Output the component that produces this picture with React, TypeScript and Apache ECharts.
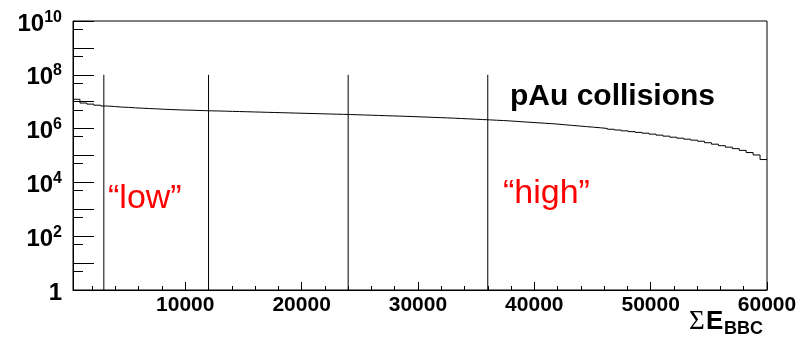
import React, { useEffect, useRef } from 'react';
import * as echarts from 'echarts';

// ---- data ----
const xMin = 350;
const xMax = 60000;
const binWidth = 596.5;
// log10 of the bin contents (100 bins)
const log10Counts = [
  7.09, 6.95, 6.91, 6.87, 6.84, 6.82, 6.80, 6.79, 6.77, 6.76,
  6.745, 6.735, 6.72, 6.71, 6.70, 6.69, 6.685, 6.675, 6.668, 6.66,
  6.655, 6.648, 6.64, 6.634, 6.627, 6.62, 6.613, 6.606, 6.599, 6.592,
  6.585, 6.578, 6.571, 6.564, 6.557, 6.55, 6.543, 6.536, 6.53, 6.523,
  6.515, 6.506, 6.498, 6.49, 6.48, 6.473, 6.465, 6.456, 6.447, 6.437,
  6.427, 6.417, 6.407, 6.397, 6.387, 6.374, 6.362, 6.35, 6.337, 6.325,
  6.312, 6.30, 6.284, 6.268, 6.25, 6.233, 6.216, 6.2, 6.183, 6.164,
  6.14, 6.118, 6.096, 6.074, 6.052, 6.03, 6.005, 5.976, 5.947, 5.917,
  5.888, 5.859, 5.83, 5.795, 5.758, 5.72, 5.68, 5.645, 5.607, 5.57,
  5.53, 5.475, 5.42, 5.365, 5.31, 5.255, 5.19, 5.11, 5.02, 4.85,
];
const cutValues = [3000, 12000, 24000, 36000];
const cutBottom = 1;
const cutTop = 1e8;
const xLabelValues = [10000, 20000, 30000, 40000, 50000, 60000];
const xMajorTickValues = [0, 10000, 20000, 30000, 40000, 50000, 60000];
const xMinorTickValues = [
  2000, 4000, 6000, 8000, 12000, 14000, 16000, 18000, 22000, 24000, 26000, 28000,
  32000, 34000, 36000, 38000, 42000, 44000, 46000, 48000, 52000, 54000, 56000, 58000,
];
const yMin = 1;
const yMax = 1e10;
const yMajorTickValues = [1, 1e1, 1e2, 1e3, 1e4, 1e5, 1e6, 1e7, 1e8, 1e9, 1e10];
const yMinorTickValues = [5, 5e1, 5e2, 5e3, 5e4, 5e5, 5e6, 5e7, 5e8, 5e9];
const yLabelValues = [1, 1e2, 1e4, 1e6, 1e8, 1e10];
const titleText = 'pAu collisions';
const lowText = '\u201Clow\u201D';
const highText = '\u201Chigh\u201D';

const FONT = "'Liberation Sans', Arial, Helvetica, sans-serif";
const SERIF = "'Liberation Serif', 'DejaVu Serif', serif";

export default function App() {
  const ref = useRef<HTMLDivElement>(null);
  useEffect(() => {
    if (!ref.current) return;
    const chart = echarts.init(ref.current, undefined, { renderer: 'svg' });

    const histData: [number, number][] = log10Counts.map((v, i) => [xMin + i * binWidth, Math.pow(10, v)]);
    histData.push([xMax, Math.pow(10, log10Counts[log10Counts.length - 1])]);

    const cutSeries = cutValues.map((c) => ({
      type: 'line' as const,
      data: [[c, cutBottom], [c, cutTop]],
      symbol: 'none',
      lineStyle: { color: '#000', width: 1 },
      silent: true,
    }));

    const yLabelFormatter = (val: number) => {
      const e = Math.round(Math.log10(val));
      return e === 0 ? '{b|1}' : `{b|10}{s|${e}}`;
    };

    chart.setOption({
      animation: false,
      grid: {
        left: 73, right: 44, top: 21, bottom: 47,
        show: true, borderColor: '#000', borderWidth: 1, backgroundColor: 'transparent',
      },
      xAxis: [
        {
          type: 'value', min: xMin, max: xMax,
          axisLine: { show: true, lineStyle: { color: '#000', width: 1 } },
          axisTick: { show: true, inside: true, length: 8, lineStyle: { color: '#000' }, customValues: xMajorTickValues },
          axisLabel: {
            show: true, customValues: xLabelValues, color: '#000', fontFamily: FONT,
            fontWeight: 'bold', fontSize: 21, margin: 3,
            formatter: (v: number) => String(Math.round(v)),
          },
          splitLine: { show: false },
        },
        {
          type: 'value', min: xMin, max: xMax, position: 'bottom',
          axisLine: { show: false },
          axisTick: { show: true, inside: true, length: 4, lineStyle: { color: '#000' }, customValues: xMinorTickValues },
          axisLabel: { show: false },
          splitLine: { show: false },
        },
      ],
      yAxis: [
        {
          type: 'log', min: yMin, max: yMax, logBase: 10,
          axisLine: { show: true, lineStyle: { color: '#000', width: 1 } },
          axisTick: { show: true, inside: true, length: 21, lineStyle: { color: '#000' }, customValues: yMajorTickValues },
          axisLabel: {
            show: true, customValues: yLabelValues, formatter: yLabelFormatter, margin: 11,
            color: '#000',
            rich: {
              b: { fontFamily: FONT, fontWeight: 'bold', fontSize: 24, color: '#000', lineHeight: 26, verticalAlign: 'bottom' },
              s: { fontFamily: FONT, fontWeight: 'bold', fontSize: 16, color: '#000', lineHeight: 16, verticalAlign: 'top' },
            },
          },
          splitLine: { show: false },
        },
        {
          type: 'log', min: yMin, max: yMax, logBase: 10, position: 'left',
          axisLine: { show: false },
          axisTick: { show: true, inside: true, length: 10, lineStyle: { color: '#000' }, customValues: yMinorTickValues },
          axisLabel: { show: false },
          splitLine: { show: false },
        },
      ],
      series: [
        {
          type: 'line',
          data: histData,
          step: 'end',
          symbol: 'none',
          lineStyle: { color: '#000', width: 1 },
          silent: true,
        },
        ...cutSeries,
      ],
      graphic: [
        {
          type: 'text', x: 510, y: 94.5,
          style: { text: titleText, font: `bold 30px ${FONT}`, fill: '#000', textAlign: 'left', textVerticalAlign: 'middle' },
        },
        {
          type: 'text', x: 108, y: 195.5,
          style: { text: lowText, font: `34px ${FONT}`, fill: '#ff0000', textAlign: 'left', textVerticalAlign: 'middle' },
        },
        {
          type: 'text', x: 503, y: 190.5,
          style: { text: highText, font: `34px ${FONT}`, fill: '#ff0000', textAlign: 'left', textVerticalAlign: 'middle' },
        },
        {
          type: 'text', x: 689, y: 319.5,
          style: { text: '\u03A3', font: `27px ${SERIF}`, fill: '#000', textAlign: 'left', textVerticalAlign: 'middle' },
        },
        {
          type: 'text', x: 706, y: 319.5,
          style: { text: 'E', font: `bold 26px ${FONT}`, fill: '#000', textAlign: 'left', textVerticalAlign: 'middle' },
        },
        {
          type: 'text', x: 724, y: 328,
          style: { text: 'BBC', font: `bold 18px ${FONT}`, fill: '#000', textAlign: 'left', textVerticalAlign: 'middle' },
        },
      ],
    });
    return () => chart.dispose();
  }, []);
  return <div ref={ref} style={{ position: 'fixed', left: 0, top: 0, width: 811, height: 337 }} />;
}
